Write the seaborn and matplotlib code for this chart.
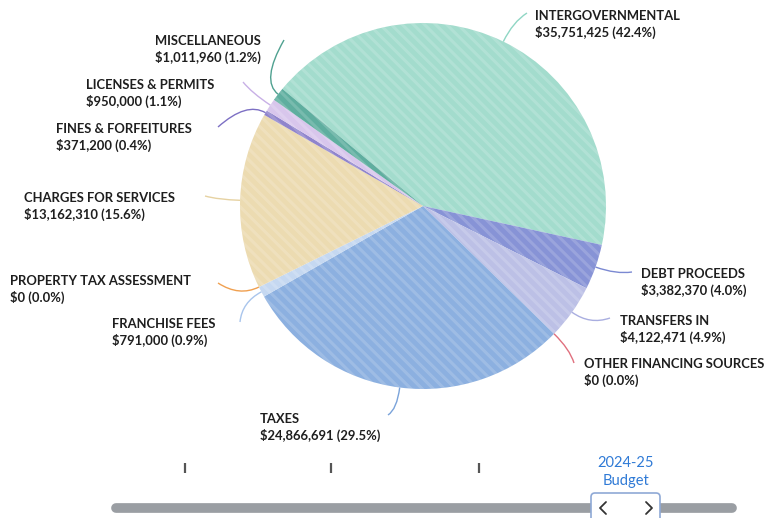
import numpy as np
import matplotlib
matplotlib.use("Agg")
import matplotlib.pyplot as plt
from matplotlib.path import Path
from matplotlib.patches import PathPatch, FancyBboxPatch
import seaborn as sns

# Revenue sources, in clockwise order around the pie
categories = [
    "INTERGOVERNMENTAL", "DEBT PROCEEDS", "TRANSFERS IN", "OTHER FINANCING SOURCES",
    "TAXES", "FRANCHISE FEES", "PROPERTY TAX ASSESSMENT", "CHARGES FOR SERVICES",
    "FINES & FORFEITURES", "LICENSES & PERMITS", "MISCELLANEOUS",
]
amounts = [35751425, 3382370, 4122471, 0, 24866691, 791000, 0, 13162310, 371200, 950000, 1011960]
slice_colors = ["#a3dccd", "#8793d6", "#bcc0e6", "#e88f9a", "#8cb0e0", "#c5d8f1",
                "#f2a55a", "#ecdbb1", "#8f84cc", "#d8c6ec", "#5fae9f"]
line_colors = ["#8fd6c4", "#7b89d2", "#a9aee0", "#e0707e", "#7aa3da", "#a9c5ec",
               "#f0a050", "#e6d2a2", "#7d70c4", "#c8b0e6", "#4fa190"]
years = ["2021-22", "2022-23", "2023-24", "2024-25"]
selected_label = ["2024-25", "Budget"]

W, H = 769, 518
sns.set_theme(style="white")
plt.rcParams["font.family"] = ["Lato", "DejaVu Sans"]
plt.rcParams["hatch.linewidth"] = 2.2

fig = plt.figure(figsize=(W / 100, H / 100), dpi=100)
ax = fig.add_axes([0, 0, 1, 1])


def py(y):
    """Convert a top-down pixel row into the axis' upward y."""
    return H - y


cx, cy, R = 423, 206, 183
total = sum(amounts)
wedges, _ = ax.pie(amounts, colors=slice_colors, startangle=140.2, counterclock=False,
                   center=(cx, py(cy)), radius=R, wedgeprops=dict(linewidth=0),
                   normalize=True, frame=True)
for w in wedges:
    w.set_hatch("\\\\\\")
    w.set_edgecolor((1, 1, 1, 0.16))
    w.set_linewidth(0)
ax.set_xlim(0, W)
ax.set_ylim(0, H)
ax.set_aspect("equal")
ax.axis("off")

# label layout: text left x, baseline of first line, connector end point
label_layout = [
    (535, 20, (527, 13)),
    (641, 278, (632, 272)),
    (620, 325, (610, 318)),
    (584, 368, (574, 363)),
    (260, 423, (388, 415)),
    (112, 328, (240, 322)),
    (10, 285, (218, 283)),
    (24, 202, (205, 196)),
    (56, 133, (218, 127)),
    (86, 89, (243, 82)),
    (155, 45, (284, 40)),
]

for i, w in enumerate(wedges):
    mid = np.deg2rad((w.theta1 + w.theta2) / 2)
    ux, uy = np.cos(mid), np.sin(mid)
    p0 = (cx + R * ux, py(cy) + R * uy)
    ctrl = (cx + (R + 22) * ux, py(cy) + (R + 22) * uy)
    tx, ty, end = label_layout[i]
    p2 = (end[0], py(end[1]))
    path = Path([p0, ctrl, p2], [Path.MOVETO, Path.CURVE3, Path.CURVE3])
    ax.add_patch(PathPatch(path, fill=False, edgecolor=line_colors[i], lw=1.0))
    pct = amounts[i] / total * 100
    ax.text(tx, py(ty), categories[i], fontsize=9.4, fontweight="bold", color="#1e1e1e",
            ha="left", va="baseline")
    ax.text(tx, py(ty + 17), f"${amounts[i]:,} ({pct:.1f}%)", fontsize=9.4,
            fontweight="bold", color="#1e1e1e", ha="left", va="baseline")

# year slider
tick_x = [185, 331, 479]
for x in tick_x:
    ax.plot([x, x], [py(463), py(473)], color="#555555", lw=1.6, solid_capstyle="butt")
ax.plot([116, 732], [py(508), py(508)], color="#9a9ea3", lw=7, solid_capstyle="round")
handle = FancyBboxPatch((591, py(530)), 69, 37, boxstyle="round,pad=0,rounding_size=4",
                        facecolor="white", edgecolor="#8fa9d6", lw=1.2, zorder=5)
ax.add_patch(handle)
ax.plot([606, 600, 606], [py(502), py(508), py(514)], color="#333333", lw=1.3, zorder=6)
ax.plot([646, 652, 646], [py(502), py(508), py(514)], color="#333333", lw=1.3, zorder=6)
ax.text(626, py(467), selected_label[0], fontsize=10.5, color="#2f7ad6", ha="center",
        va="baseline")
ax.text(626, py(485), selected_label[1], fontsize=10.5, color="#2f7ad6", ha="center",
        va="baseline")

fig.savefig("out.png", dpi=100)
